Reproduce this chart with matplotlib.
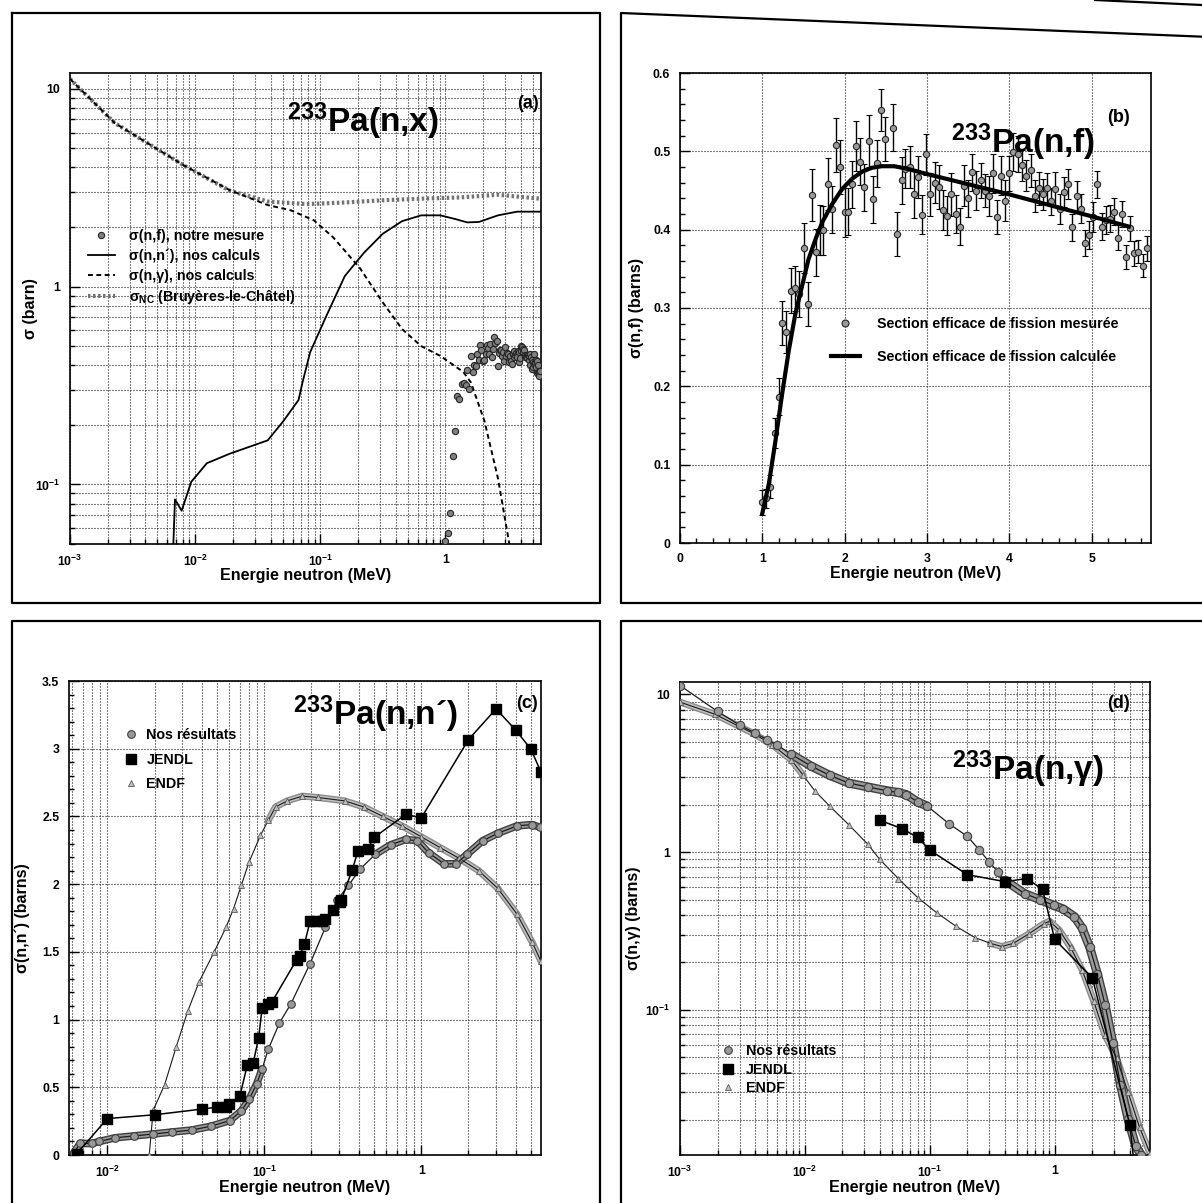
import numpy as np
import matplotlib
matplotlib.use('Agg')
import matplotlib.pyplot as plt
from matplotlib.lines import Line2D
from matplotlib.ticker import LogLocator, MultipleLocator, NullFormatter, FuncFormatter, FixedLocator

plt.rcParams['font.family'] = ['Liberation Sans', 'DejaVu Sans']
plt.rcParams['font.weight'] = 'bold'
plt.rcParams['axes.labelweight'] = 'bold'
plt.rcParams['mathtext.default'] = 'regular'

# ---------------- data ----------------
# (b) measured fission cross section, with error bars
E_fis = [1.00, 1.04, 1.09, 1.15, 1.20, 1.24, 1.29, 1.35, 1.40, 1.45,
         1.50, 1.55, 1.60, 1.65, 1.70, 1.74, 1.80, 1.84, 1.89, 1.94,
         2.00, 2.04, 2.09, 2.14, 2.19, 2.24, 2.29, 2.34, 2.39, 2.44,
         2.49, 2.59, 2.64, 2.69, 2.73, 2.79, 2.84, 2.89, 2.94, 2.99,
         3.04, 3.10, 3.14, 3.19, 3.24, 3.29, 3.35, 3.40, 3.45, 3.50,
         3.55, 3.60, 3.65, 3.70, 3.75, 3.80, 3.85, 3.90, 3.95, 3.99,
         4.05, 4.10, 4.15, 4.20, 4.26, 4.31, 4.36, 4.41, 4.46, 4.51,
         4.56, 4.61, 4.66, 4.71, 4.76, 4.82, 4.87, 4.92, 4.97, 5.02,
         5.07, 5.12, 5.17, 5.22, 5.27, 5.32, 5.37, 5.42, 5.47, 5.51,
         5.56, 5.62, 5.67]
sig_fis = [0.052, 0.057, 0.072, 0.140, 0.187, 0.281, 0.269, 0.322, 0.325, 0.318,
           0.377, 0.305, 0.444, 0.371, 0.400, 0.399, 0.458, 0.426, 0.508, 0.480,
           0.422, 0.423, 0.458, 0.507, 0.487, 0.454, 0.513, 0.439, 0.485, 0.553,
           0.516, 0.530, 0.395, 0.463, 0.478, 0.480, 0.446, 0.467, 0.419, 0.496,
           0.445, 0.460, 0.455, 0.425, 0.418, 0.445, 0.420, 0.404, 0.456, 0.440,
           0.473, 0.450, 0.463, 0.450, 0.443, 0.472, 0.416, 0.469, 0.437, 0.472,
           0.499, 0.496, 0.482, 0.469, 0.476, 0.443, 0.453, 0.445, 0.453, 0.436,
           0.452, 0.426, 0.448, 0.458, 0.403, 0.443, 0.427, 0.383, 0.393, 0.416,
           0.458, 0.404, 0.412, 0.414, 0.423, 0.390, 0.420, 0.365, 0.402, 0.370,
           0.372, 0.354, 0.376]
err_fis = [0.016, 0.012, 0.015, 0.019, 0.024, 0.028, 0.027, 0.029, 0.029, 0.029,
           0.032, 0.028, 0.033, 0.030, 0.032, 0.031, 0.033, 0.030, 0.035, 0.034,
           0.031, 0.030, 0.030, 0.032, 0.030, 0.030, 0.033, 0.030, 0.030, 0.027,
           0.028, 0.030, 0.028, 0.030, 0.025, 0.027, 0.031, 0.027, 0.025, 0.026,
           0.027, 0.026, 0.028, 0.026, 0.025, 0.027, 0.024, 0.024, 0.026, 0.024,
           0.023, 0.025, 0.022, 0.021, 0.026, 0.025, 0.022, 0.025, 0.026, 0.022,
           0.024, 0.023, 0.020, 0.020, 0.021, 0.020, 0.021, 0.020, 0.019, 0.017,
           0.021, 0.019, 0.019, 0.019, 0.017, 0.019, 0.018, 0.017, 0.018, 0.019,
           0.017, 0.017, 0.018, 0.017, 0.017, 0.016, 0.016, 0.015, 0.016, 0.016,
           0.015, 0.015, 0.016]

# (b) calculated fission cross section
E_fit = [1.00, 1.08, 1.16, 1.24, 1.32, 1.40, 1.48, 1.56, 1.65, 1.73, 1.85, 1.97,
         2.09, 2.21, 2.33, 2.45, 2.60, 2.75, 3.00, 3.50, 4.00, 4.50, 5.00, 5.45]
sig_fit = [0.038, 0.076, 0.131, 0.190, 0.245, 0.292, 0.327, 0.362, 0.389, 0.410, 0.433, 0.452,
           0.465, 0.474, 0.479, 0.481, 0.481, 0.478, 0.471, 0.458, 0.445, 0.431, 0.417, 0.404]

# (a) calculated (n,n') and (n,gamma), Bruyeres-le-Chatel sigma_NC
E_inel_a = [0.0065, 0.0069, 0.0078, 0.0093, 0.0124, 0.0189, 0.038, 0.0507, 0.067, 0.072,
            0.083, 0.110, 0.157, 0.223, 0.316, 0.45, 0.64, 0.91, 1.21, 1.49,
            1.85, 2.63, 3.73, 5.7]
sig_inel_a = [0.03, 0.084, 0.0736, 0.103, 0.128, 0.143, 0.167, 0.209, 0.267, 0.327,
              0.466, 0.695, 1.13, 1.48, 1.85, 2.14, 2.29, 2.29, 2.19, 2.11,
              2.12, 2.29, 2.39, 2.39]
E_capt_a = [0.001, 0.00228, 0.0081, 0.0189, 0.038, 0.058, 0.089, 0.127, 0.207, 0.316,
            0.45, 0.64, 0.91, 1.39, 1.60, 2.05, 2.63, 3.24, 3.6]
sig_capt_a = [11.2, 6.7, 4.1, 3.07, 2.58, 2.43, 2.16, 1.77, 1.24, 0.83,
              0.61, 0.50, 0.446, 0.37, 0.327, 0.209, 0.107, 0.05, 0.03]
E_nc = [0.001, 0.00228, 0.0081, 0.0189, 0.038, 0.078, 0.157, 0.316, 0.64, 1.3, 2.63, 5.7]
sig_nc = [11.2, 6.7, 4.1, 3.05, 2.69, 2.61, 2.66, 2.73, 2.78, 2.82, 2.91, 2.78]

# (c) inelastic: our results, JENDL, ENDF
E_inel_c = [0.0061, 0.0067, 0.008, 0.0089, 0.0112, 0.0148, 0.0196, 0.026, 0.0344, 0.0456,
            0.0603, 0.0714, 0.080, 0.0893, 0.097, 0.106, 0.125, 0.148, 0.196, 0.245,
            0.29, 0.344, 0.407, 0.51, 0.638, 0.798, 0.946, 1.12, 1.40, 1.66,
            1.96, 2.46, 3.07, 4.07, 5.1, 5.7]
sig_inel_c = [0.014, 0.085, 0.085, 0.10, 0.127, 0.141, 0.155, 0.17, 0.184, 0.212,
              0.254, 0.325, 0.41, 0.523, 0.636, 0.78, 0.975, 1.117, 1.414, 1.68,
              1.88, 1.99, 2.11, 2.22, 2.29, 2.33, 2.32, 2.23, 2.15, 2.15,
              2.22, 2.32, 2.375, 2.43, 2.44, 2.42]
E_jendl_c = [0.0064, 0.01, 0.02, 0.04, 0.05, 0.057, 0.06, 0.07, 0.078, 0.085,
             0.092, 0.097, 0.106, 0.112, 0.161, 0.168, 0.18, 0.196, 0.214, 0.232,
             0.245, 0.275, 0.302, 0.31, 0.364, 0.396, 0.456, 0.504, 0.8, 1.0,
             2.0, 3.0, 4.0, 5.0, 5.8]
sig_jendl_c = [0.01, 0.269, 0.297, 0.339, 0.353, 0.353, 0.376, 0.438, 0.664, 0.679,
               0.862, 1.088, 1.117, 1.131, 1.442, 1.47, 1.555, 1.725, 1.725, 1.725,
               1.739, 1.81, 1.866, 1.886, 2.106, 2.248, 2.262, 2.347, 2.516, 2.488,
               3.067, 3.294, 3.138, 2.997, 2.827]
E_endf_c = [0.0185, 0.0196, 0.0232, 0.0275, 0.0325, 0.0385, 0.048, 0.057, 0.0638, 0.0714,
            0.0798, 0.0946, 0.106, 0.118, 0.14, 0.175, 0.219, 0.325, 0.43, 0.57,
            0.755, 1.0, 1.32, 1.75, 2.32, 3.07, 4.07, 5.1, 5.8]
sig_endf_c = [0.0, 0.33, 0.52, 0.80, 1.06, 1.28, 1.50, 1.68, 1.82, 1.99,
              2.16, 2.36, 2.47, 2.57, 2.615, 2.65, 2.64, 2.615, 2.57, 2.50,
              2.43, 2.35, 2.27, 2.19, 2.10, 1.97, 1.78, 1.57, 1.43]

# (d) capture: our results, JENDL, ENDF
E_capt_d = [0.001, 0.002, 0.003, 0.004, 0.005, 0.006, 0.0078, 0.0111, 0.0158, 0.0225,
            0.032, 0.0456, 0.056, 0.0648, 0.080, 0.0955, 0.143, 0.2, 0.25, 0.3,
            0.35, 0.4, 0.577, 0.764, 0.98, 1.17, 1.44, 1.66, 1.91, 2.2,
            2.53, 2.92, 3.36, 3.87, 4.45, 4.95]
sig_capt_d = [11.4, 7.8, 6.4, 5.7, 5.15, 4.79, 4.17, 3.53, 3.07, 2.74,
              2.59, 2.45, 2.39, 2.32, 2.08, 1.96, 1.51, 1.26, 1.03, 0.865,
              0.753, 0.662, 0.545, 0.50, 0.46, 0.436, 0.39, 0.33, 0.249, 0.169,
              0.108, 0.062, 0.0335, 0.0203, 0.0137, 0.012]
E_jendl_d = [0.04, 0.06, 0.08, 0.1, 0.2, 0.4, 0.6, 0.8, 1.0, 2.0, 4.0, 4.3]
sig_jendl_d = [1.59, 1.41, 1.24, 1.03, 0.72, 0.65, 0.68, 0.58, 0.28, 0.16, 0.0187, 0.011]
E_endf_d = [0.001, 0.0019, 0.00387, 0.0055, 0.0078, 0.0097, 0.012, 0.0158, 0.0225, 0.032,
            0.0397, 0.056, 0.08, 0.114, 0.162, 0.23, 0.306, 0.377, 0.467, 0.62,
            0.82, 0.91, 1.09, 1.34, 1.66, 2.05, 2.53, 3.13, 3.87, 4.78, 5.8]
sig_endf_d = [8.95, 7.5, 5.66, 4.79, 3.84, 3.07, 2.45, 1.96, 1.49, 1.12,
              0.9, 0.68, 0.515, 0.412, 0.339, 0.287, 0.264, 0.252, 0.264, 0.303,
              0.352, 0.365, 0.32, 0.249, 0.179, 0.114, 0.069, 0.0496, 0.030, 0.018, 0.0123]

xlabel = 'Energie neutron (MeV)'
nprime = 'n\u00b4'
LEG_FS = 10.3

# ---------------- figure ----------------
W, H = 1202, 1203
fig = plt.figure(figsize=(W / 100, H / 100), dpi=100)


def px_axes(left, top, right, bottom):
    return fig.add_axes([left / W, 1 - bottom / H, (right - left) / W, (bottom - top) / H])


def frame(points):
    xs = [p[0] / W for p in points]
    ys = [1 - p[1] / H for p in points]
    fig.add_artist(Line2D(xs, ys, transform=fig.transFigure, color='black', lw=1.6))


# panel frames (scanned page)
frame([(12, 13), (12, 603), (600, 603), (600, 13), (12, 13)])
frame([(1210, 37), (621, 13), (621, 603), (1210, 603)])
frame([(12, 1210), (12, 621), (600, 621), (600, 1210)])
frame([(621, 1210), (621, 621), (1210, 621)])
frame([(1095, 0), (1202, 5)])


def log_fmt(v, pos):
    e = int(round(np.log10(v)))
    if e == 0:
        return '1'
    if e == 1:
        return '10'
    return r'$10^{%d}$' % e


grid_kw = dict(color='black', lw=0.8, ls=(0, (0.9, 1.8)))


def style(ax):
    for s in ax.spines.values():
        s.set_linewidth(1.2)
    ax.tick_params(which='both', direction='in', top=False, right=False, labelsize=8.8, width=1)
    ax.tick_params(which='major', length=7, pad=7)
    ax.tick_params(which='minor', length=3.5)


def logx(ax):
    ax.set_xscale('log')
    ax.xaxis.set_major_locator(FixedLocator([1e-3, 1e-2, 1e-1, 1]))
    ax.xaxis.set_minor_locator(LogLocator(base=10, subs=np.arange(2, 10), numticks=20))
    ax.xaxis.set_major_formatter(FuncFormatter(log_fmt))
    ax.xaxis.set_minor_formatter(NullFormatter())


def logy(ax):
    ax.set_yscale('log')
    ax.yaxis.set_major_locator(FixedLocator([1e-1, 1, 10]))
    ax.yaxis.set_minor_locator(LogLocator(base=10, subs=np.arange(2, 10), numticks=20))
    ax.yaxis.set_major_formatter(FuncFormatter(log_fmt))
    ax.yaxis.set_minor_formatter(NullFormatter())


def title(ax, x, y, txt, tag, tx, ty):
    ax.text(x, y, txt, transform=ax.transAxes, fontsize=24, fontweight='bold',
            ha='left', va='baseline', zorder=6)
    ax.text(tx, ty, tag, transform=ax.transAxes, fontsize=13, fontweight='bold',
            ha='right', va='center', zorder=6)


def band(ax, E, s, mask, dark, light, w):
    s_band = np.where(mask, s, np.nan)
    ax.plot(E, s_band, color=dark, lw=w, solid_capstyle='round', zorder=2)
    ax.plot(E, s_band, color=light, lw=w - 2, solid_capstyle='round', zorder=2)


# ---------------- (a) ----------------
ax = px_axes(70, 73, 541, 544)
logx(ax)
logy(ax)
ax.set_xlim(1e-3, 5.8)
ax.set_ylim(0.05, 12)
ax.grid(True, which='both', **grid_kw)
h_nc, = ax.plot(E_nc, sig_nc, color='0.45', lw=3, ls=(0, (0.6, 0.6)), zorder=3)
h_ng, = ax.plot(E_capt_a, sig_capt_a, color='black', lw=1.4, ls=(0, (2.5, 1.8)), zorder=3)
h_nn, = ax.plot(E_inel_a, sig_inel_a, color='black', lw=1.3, zorder=3)
h_nf, = ax.plot(E_fis, sig_fis, ls='none', marker='o', ms=4.5, mfc='0.5', mec='0.15', mew=0.8, zorder=4)
style(ax)
ax.set_xlabel(xlabel, fontsize=11.5)
ax.set_ylabel('σ (barn)', fontsize=11.5)
ax.xaxis.set_label_coords(0.5, -0.05)
ax.yaxis.set_label_coords(-0.067, 0.5)
title(ax, 0.46, 0.874, r'$^{233}$Pa(n,x)', '(a)', 0.995, 0.936)
ax.legend([h_nf, h_nn, h_ng, h_nc],
          ['σ(n,f), notre mesure', 'σ(n,' + nprime + '), nos calculs', 'σ(n,γ), nos calculs',
           r'σ$_{NC}$ (Bruyères-le-Châtel)'],
          loc='upper left', bbox_to_anchor=(0.038, 0.668), frameon=False, fontsize=LEG_FS,
          handlelength=1.9, handletextpad=1.0, labelspacing=0.38, borderpad=0, borderaxespad=0)

# ---------------- (b) ----------------
ax = px_axes(680, 73, 1151, 543)
ax.set_xlim(0, 5.72)
ax.set_ylim(0, 0.6)
ax.xaxis.set_major_locator(MultipleLocator(1))
ax.xaxis.set_minor_locator(MultipleLocator(0.2))
ax.yaxis.set_major_locator(MultipleLocator(0.1))
ax.yaxis.set_minor_locator(MultipleLocator(0.02))
ax.yaxis.set_major_formatter(FuncFormatter(lambda v, p: '0' if abs(v) < 1e-9 else '%.1f' % v))
ax.grid(True, which='major', **grid_kw)
ax.errorbar(E_fis, sig_fis, yerr=err_fis, fmt='o', ms=4.5, mfc='0.6', mec='0.15', mew=0.8,
            ecolor='black', elinewidth=1, capsize=2, capthick=1, zorder=4)
h_fit, = ax.plot(E_fit, sig_fit, color='black', lw=3, zorder=5)
style(ax)
ax.set_xlabel(xlabel, fontsize=11.5)
ax.set_ylabel('σ(n,f) (barns)', fontsize=11.5)
ax.xaxis.set_label_coords(0.5, -0.048)
ax.yaxis.set_label_coords(-0.077, 0.5)
title(ax, 0.575, 0.83, r'$^{233}$Pa(n,f)', '(b)', 0.955, 0.906)
h_meas = Line2D([], [], ls='none', marker='o', ms=5, mfc='0.6', mec='0.15', mew=0.8)
ax.legend([h_meas, h_fit],
          ['Section efficace de fission mesurée', 'Section efficace de fission calculée'],
          loc='upper left', bbox_to_anchor=(0.321, 0.481), frameon=False, fontsize=LEG_FS,
          handlelength=2.0, handletextpad=1.2, labelspacing=1.35, borderpad=0, borderaxespad=0)

# ---------------- (c) ----------------
ax = px_axes(69, 681, 541, 1155)
logx(ax)
ax.xaxis.set_major_locator(FixedLocator([1e-2, 1e-1, 1]))
ax.set_xlim(0.0057, 5.8)
ax.set_ylim(0, 3.5)
ax.yaxis.set_major_locator(MultipleLocator(0.5))
ax.yaxis.set_minor_locator(MultipleLocator(0.1))
ax.yaxis.set_major_formatter(FuncFormatter(lambda v, p: '%g' % v))
ax.xaxis.grid(True, which='both', **grid_kw)
ax.yaxis.grid(True, which='major', **grid_kw)
E = np.array(E_endf_c)
band(ax, E, np.array(sig_endf_c), E > 0.1, '0.55', '0.75', 5)
ax.plot(E_endf_c, sig_endf_c, color='0.1', lw=0.8, marker='^', ms=4.5, mfc='0.75', mec='0.35',
        mew=0.6, zorder=3)
E = np.array(E_inel_c)
band(ax, E, np.array(sig_inel_c), (E < 0.105) | (E > 0.45), '0.25', '0.6', 5.5)
ax.plot(E_inel_c, sig_inel_c, color='0.1', lw=0.9, marker='o', ms=5.5, mfc='0.6', mec='0.25',
        mew=0.8, zorder=4)
ax.plot(E_jendl_c, sig_jendl_c, color='black', lw=1.1, marker='s', ms=6.5, mfc='black',
        mec='black', zorder=5)
style(ax)
ax.set_xlabel(xlabel, fontsize=11.5)
ax.set_ylabel('σ(n,' + nprime + ') (barns)', fontsize=11.5)
ax.xaxis.set_label_coords(0.5, -0.052)
ax.yaxis.set_label_coords(-0.083, 0.5)
title(ax, 0.474, 0.908, r'$^{233}$Pa(n,' + nprime + ')', '(c)', 0.993, 0.952)
hc = [Line2D([], [], ls='none', marker='o', ms=5.5, mfc='0.6', mec='0.25', mew=0.8),
      Line2D([], [], ls='none', marker='s', ms=6.5, mfc='black', mec='black'),
      Line2D([], [], ls='none', marker='^', ms=4.5, mfc='0.75', mec='0.35', mew=0.6)]
ax.legend(hc, ['Nos résultats', 'JENDL', 'ENDF'], loc='upper left', bbox_to_anchor=(0.117, 0.901),
          frameon=False, fontsize=LEG_FS, handlelength=0.95, handletextpad=0.6, labelspacing=0.75,
          borderpad=0, borderaxespad=0)

# ---------------- (d) ----------------
ax = px_axes(680, 682, 1150, 1155)
logx(ax)
logy(ax)
ax.set_xlim(1e-3, 5.8)
ax.set_ylim(0.012, 12)
ax.grid(True, which='both', **grid_kw)
E = np.array(E_endf_d)
band(ax, E, np.array(sig_endf_d), (E < 0.01) | (E > 0.25), '0.55', '0.75', 5)
ax.plot(E_endf_d, sig_endf_d, color='0.1', lw=0.8, marker='^', ms=4.5, mfc='0.75', mec='0.35',
        mew=0.6, zorder=3)
E = np.array(E_capt_d)
band(ax, E, np.array(sig_capt_d), ((E > 0.0065) & (E < 0.11)) | (E > 0.38), '0.25', '0.6', 6.5)
ax.plot(E_capt_d, sig_capt_d, color='0.1', lw=0.9, marker='o', ms=6, mfc='0.6', mec='0.25',
        mew=0.8, zorder=4)
ax.plot(E_jendl_d, sig_jendl_d, color='black', lw=1.1, marker='s', ms=6.5, mfc='black',
        mec='black', zorder=5)
style(ax)
ax.set_xlabel(xlabel, fontsize=11.5)
ax.set_ylabel('σ(n,γ) (barns)', fontsize=11.5)
ax.xaxis.set_label_coords(0.5, -0.052)
ax.yaxis.set_label_coords(-0.083, 0.5)
title(ax, 0.579, 0.792, r'$^{233}$Pa(n,$\gamma$)', '(d)', 0.957, 0.954)
ax.legend(hc, ['Nos résultats', 'JENDL', 'ENDF'], loc='upper left', bbox_to_anchor=(0.0885, 0.234),
          frameon=False, fontsize=LEG_FS, handlelength=0.95, handletextpad=0.75, labelspacing=0.3,
          borderpad=0, borderaxespad=0)

fig.savefig('out.png', dpi=100)
